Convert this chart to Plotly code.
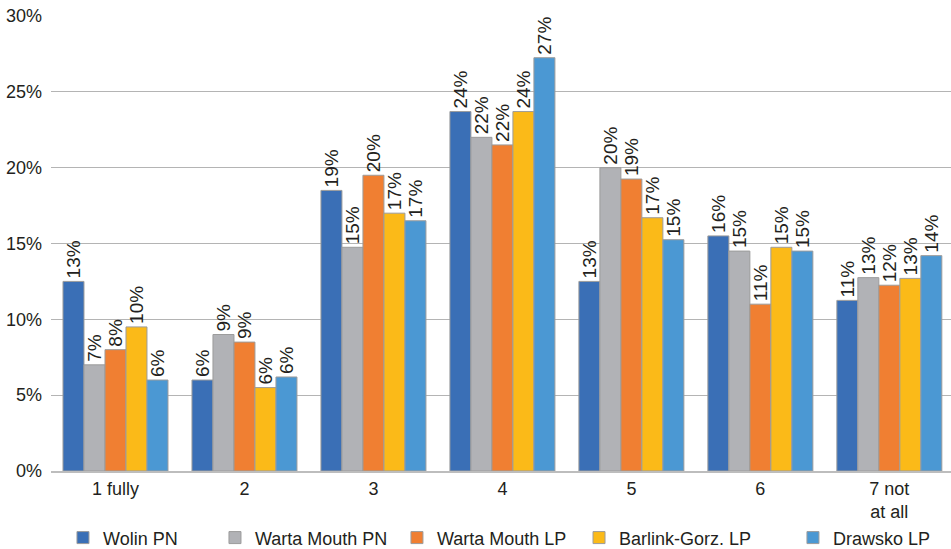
import plotly.graph_objects as go

categories = ["1 fully", "2", "3", "4", "5", "6", "7 not<br>at all"]
series_names = ["Wolin PN", "Warta Mouth PN", "Warta Mouth LP", "Barlink-Gorz. LP", "Drawsko LP"]

wolin_pn = [12.5, 6.0, 18.5, 23.7, 12.5, 15.5, 11.25]
warta_pn = [7.0, 9.0, 14.75, 22.0, 20.0, 14.5, 12.75]
warta_lp = [8.0, 8.5, 19.5, 21.5, 19.25, 11.0, 12.25]
barlink_lp = [9.5, 5.5, 17.0, 23.7, 16.7, 14.75, 12.7]
drawsko_lp = [6.0, 6.2, 16.5, 27.25, 15.25, 14.5, 14.2]

wolin_lbl = ["13%", "6%", "19%", "24%", "13%", "16%", "11%"]
warta_pn_lbl = ["7%", "9%", "15%", "22%", "20%", "15%", "13%"]
warta_lp_lbl = ["8%", "9%", "20%", "22%", "19%", "11%", "12%"]
barlink_lbl = ["10%", "6%", "17%", "24%", "17%", "15%", "13%"]
drawsko_lbl = ["6%", "6%", "17%", "27%", "15%", "15%", "14%"]

y_ticks = [0, 5, 10, 15, 20, 25, 30]
y_tick_labels = ["0%", "5%", "10%", "15%", "20%", "25%", "30%"]

colors = ["#3a6fb6", "#b1b2b6", "#f07f32", "#fbba18", "#4b98d3"]
values = [wolin_pn, warta_pn, warta_lp, barlink_lp, drawsko_lp]
labels = [wolin_lbl, warta_pn_lbl, warta_lp_lbl, barlink_lbl, drawsko_lbl]
legend_ids = ["legend", "legend2", "legend3", "legend4", "legend5"]
legend_x = [0.0133, 0.1822, 0.3844, 0.5867, 0.8244]

FONT = "Liberation Sans, Arial, sans-serif"
FS = 18

fig = go.Figure()
for name, vals, lbl, col, lid in zip(series_names, values, labels, colors, legend_ids):
    fig.add_trace(go.Bar(
        x=categories, y=vals, name=name, text=lbl,
        textposition="outside", textangle=-90, constraintext="none",
        cliponaxis=False,
        textfont=dict(size=19, color="#231f20", family=FONT),
        marker=dict(color=col, line=dict(color="#9c9c9c", width=1)),
        legend=lid,
    ))

layout_legends = {}
for lid, lx in zip(legend_ids, legend_x):
    layout_legends[lid] = dict(
        x=lx, xanchor="left", y=-0.147, yanchor="middle",
        orientation="h", font=dict(size=FS, color="#231f20", family=FONT),
        bgcolor="rgba(0,0,0,0)",
    )

fig.update_layout(
    width=951, height=549,
    margin=dict(l=51, r=0, t=16, b=78, autoexpand=False),
    paper_bgcolor="white", plot_bgcolor="white",
    barmode="group", bargap=0.186, bargroupgap=0,
    font=dict(family=FONT, size=FS, color="#231f20"),
    showlegend=True,
    **layout_legends,
)
fig.update_xaxes(
    range=[-0.5, 6.478], showgrid=False, showline=True,
    linecolor="#bdbdbd", linewidth=2, ticks="", automargin=False,
    tickfont=dict(size=FS, family=FONT, color="#231f20"),
)
fig.update_yaxes(
    range=[0, 30], tickmode="array", tickvals=y_ticks, ticktext=y_tick_labels,
    showgrid=True, gridcolor="#b4b4b4", gridwidth=1,
    zeroline=False, showline=False, ticks="", automargin=False,
    ticklabelstandoff=8,
    tickfont=dict(size=FS, family=FONT, color="#231f20"),
)

fig.write_html(
    "out.html",
    config={"displayModeBar": False},
    post_script="document.body.style.margin='0px';document.body.style.padding='0px';",
)
